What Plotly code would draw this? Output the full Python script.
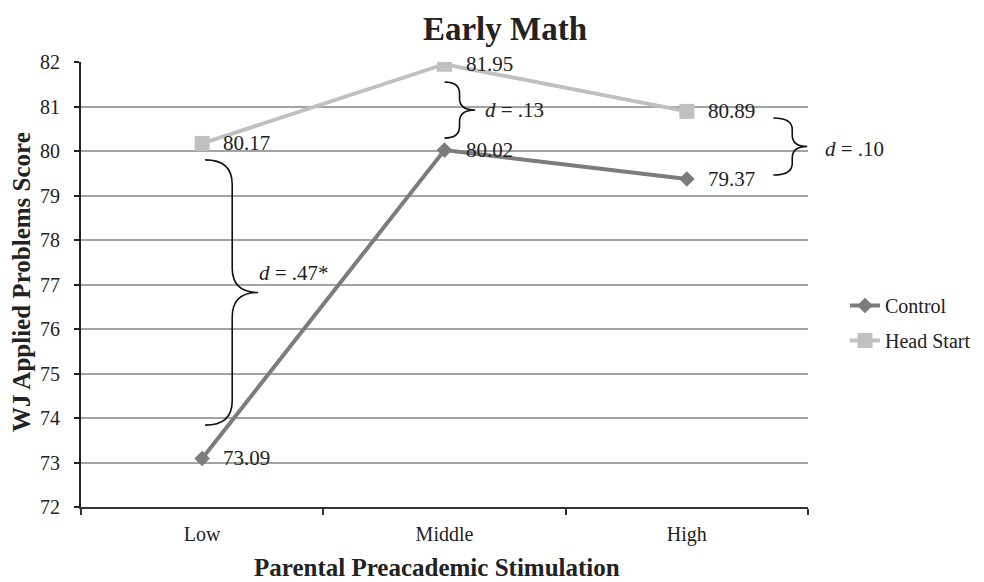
import plotly.graph_objects as go

# ---- data ----
categories = ["Low", "Middle", "High"]
control = [73.09, 80.02, 79.37]
head_start = [80.17, 81.95, 80.89]
series_names = ["Control", "Head Start"]
y_ticks = list(range(72, 83))
effect_labels = ["<i>d</i> = .47*", "<i>d</i> = .13", "<i>d</i> = .10"]

FONT = "Liberation Serif, Times New Roman, serif"
C_CTRL = "#7c7c7c"
C_HS = "#c0c0c0"

# page offset introduced by the html body margin
OFF = 8
W, H = 984, 582
PL, PR, PT, PB = 81, 808, 62, 507  # target plot area in page pixels

fig = go.Figure()
fig.add_trace(go.Scatter(
    x=categories, y=control, name=series_names[0], mode="lines+markers",
    line=dict(color=C_CTRL, width=4),
    marker=dict(symbol="diamond", size=12, color=C_CTRL),
    legendgroup="a",
))
fig.add_trace(go.Scatter(
    x=categories, y=head_start, name=series_names[1], mode="lines+markers",
    line=dict(color=C_HS, width=4),
    marker=dict(symbol="square", size=15, color=C_HS),
    legendgroup="b",
))

annotations = []
# value labels
for series in (control, head_start):
    for c, v in zip(categories, series):
        annotations.append(dict(
            x=c, y=v, xref="x", yref="y", text=f"{v:.2f}", showarrow=False,
            xanchor="left", yanchor="middle", xshift=19,
            font=dict(family=FONT, size=21, color="#222"),
        ))


def px(i):
    # category index -> paper fraction (range -0.5..2.5)
    return (i + 0.5) / 3.0


def paper_x(p):
    return (p - PL) / (PR - PL)


def paper_y(p):
    return (PB - p) / (PB - PT)


# braces: (x_end, x_spine, x_tip, y_top, y_bottom, y_mid, curl)
braces = [
    (0.012, 0.124, 0.231, 79.80, 73.84, 76.82, 0.55),
    (1.000, 1.062, 1.127, 81.55, 80.29, 80.92, 0.26),
    (2.357, 2.435, 2.497, 80.74, 79.46, 80.10, 0.26),
]
text_pos = [(0.225, 77.26), (1.160, 80.92), (2.560, 80.04)]

shapes = []
for (x0, xs, xt, yt, yb, ym, r), lab, (tx, ty) in zip(braces, effect_labels, text_pos):
    a0, a1, a2 = px(x0), px(xs), px(xt)
    path = (f"M{a0},{yt} Q{a1},{yt} {a1},{yt - r} "
            f"L{a1},{ym + r} Q{a1},{ym} {a2},{ym} "
            f"Q{a1},{ym} {a1},{ym - r} "
            f"L{a1},{yb + r} Q{a1},{yb} {a0},{yb}")
    shapes.append(dict(type="path", path=path, xref="paper", yref="y",
                       line=dict(color="#111", width=1.6)))
    annotations.append(dict(
        x=px(tx), y=ty, xref="paper", yref="y", text=lab, showarrow=False,
        xanchor="left", yanchor="middle",
        font=dict(family=FONT, size=21, color="#222"),
    ))

# axis titles
annotations.append(dict(
    x=paper_x(436.5), y=paper_y(567), xref="paper", yref="paper",
    text="<b>Parental Preacademic Stimulation</b>", showarrow=False,
    xanchor="center", yanchor="middle",
    font=dict(family=FONT, size=25, color="#222"),
))
annotations.append(dict(
    x=paper_x(21), y=paper_y(282), xref="paper", yref="paper",
    text="<b>WJ Applied Problems Score</b>", showarrow=False, textangle=-90,
    xanchor="center", yanchor="middle",
    font=dict(family=FONT, size=25, color="#222"),
))

fig.update_layout(
    width=W, height=H,
    margin=dict(l=PL - OFF, r=W - (PR - OFF), t=PT - OFF, b=H - (PB - OFF)),
    paper_bgcolor="white", plot_bgcolor="white",
    font=dict(family=FONT, size=20, color="#222"),
    title=dict(text="<b>Early Math</b>", x=(505 - OFF) / W, xref="container", xanchor="center",
               y=1 - (28 - OFF) / H, yref="container", yanchor="middle",
               font=dict(family=FONT, size=33, color="#222")),
    xaxis=dict(
        type="category", categoryorder="array", categoryarray=categories,
        range=[-0.5, 2.5], showgrid=False, zeroline=False,
        showline=True, linecolor="#333", linewidth=2,
        ticks="outside", tickson="boundaries", ticklen=6, tickcolor="#333", tickwidth=2,
        tickfont=dict(family=FONT, size=20, color="#222"),
        ticklabelstandoff=8,
    ),
    yaxis=dict(
        range=[72, 82], tickvals=y_ticks, showgrid=True, gridcolor="#a3a3a3", gridwidth=1.5,
        zeroline=False, showline=True, linecolor="#222", linewidth=2,
        ticks="outside", ticklen=5, tickcolor="#222", tickwidth=2,
        tickfont=dict(family=FONT, size=20, color="#222"),
        ticklabelstandoff=10,
    ),
    legend=dict(x=paper_x(845), y=paper_y(323), xanchor="left", yanchor="middle",
                xref="paper", yref="paper",
                traceorder="grouped", tracegroupgap=6,
                font=dict(family=FONT, size=20, color="#222"),
                bgcolor="rgba(0,0,0,0)"),
    shapes=shapes,
    annotations=annotations,
)

fig.write_html("out.html")
